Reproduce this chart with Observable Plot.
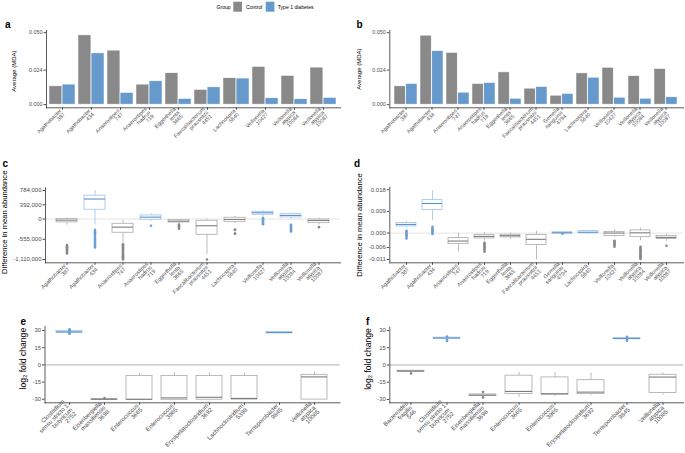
<!DOCTYPE html>
<html><head><meta charset="utf-8">
<script src="https://cdn.jsdelivr.net/npm/d3@7"></script>
<script src="https://cdn.jsdelivr.net/npm/@observablehq/plot@0.6"></script>
<style>
body{margin:0;background:#fff;}
#fig{position:relative;width:685px;height:453px;overflow:hidden;font-family:"Liberation Sans",Arial,Helvetica,sans-serif;}
.panel{position:absolute;}
.panel svg{overflow:visible;}
</style></head><body><div id="fig"></div>
<script>
// ---------- DATA ----------
const groups = ["Control", "Type 1 diabetes"];

const speciesA = ["Agathobacter\n387","Agathobacter\n434","Anaerostipes\n747","Anaerostipes\nhadrus\n719","Eggerthella\nlenta\n3665","Faecalibacterium\nprausnitzii\n4451","Lachnospira\n5640","Veillonella\n10427","Veillonella\natypica\n10084","Veillonella\natypica\n10087"];
const controlA = [0.0127, 0.0481, 0.0375, 0.0139, 0.0218, 0.0102, 0.0183, 0.0262, 0.0199, 0.0257];
const t1dA     = [0.0139, 0.0356, 0.0081, 0.0162, 0.0039, 0.0120, 0.0181, 0.0044, 0.0037, 0.0046];

const speciesB = ["Agathobacter\n387","Agathobacter\n434","Anaerostipes\n747","Anaerostipes\nhadrus\n719","Eggerthella\nlenta\n3665","Faecalibacterium\nprausnitzii\n4451","Gemella\nsanguinis\n4794","Lachnospira\n5640","Veillonella\n10427","Veillonella\natypica\n10084","Veillonella\natypica\n10087"];
const controlB = [0.0127, 0.0479, 0.0359, 0.0143, 0.0224, 0.0111, 0.0062, 0.0217, 0.0256, 0.0198, 0.0247];
const t1dB     = [0.0143, 0.0371, 0.0083, 0.0150, 0.0041, 0.0122, 0.0074, 0.0187, 0.0048, 0.0041, 0.0051];
const yTicksAB = [0, 0.024, 0.050];

// panel c: difference in mean abundance (box summaries)
const speciesC = speciesA;
const higherC = ["Control","Type 1 diabetes","Control","Type 1 diabetes","Control","Control","Control","Type 1 diabetes","Type 1 diabetes","Control"];
const lowC  = [-165000, -156000, -661000, -74000, -140000, -972000, -129000, 52000, -3000, -156000];
const q1C   = [-92000, 256000, -376000, -19000, -93000, -431000, -85000, 118000, 44000, -112000];
const medC  = [-30000, 550000, -222000, 52000, -58000, -184000, -11000, 173000, 99000, -38000];
const q3C   = [5000, 641000, -129000, 99000, -30000, -47000, 36000, 200000, 134000, -11000];
const highC = [27000, 779000, -38000, 154000, -11000, 0, 71000, 228000, 162000, 25000];
const outC  = [
  [-715000,-745000,-775000,-805000,-835000,-865000,-895000,-925000,-945000],
  [-294000,-330000,-365000,-400000,-440000,-480000,-520000,-560000,-600000,-640000,-680000,-720000,-760000,-780000],
  [-690000,-720000,-750000,-780000,-810000,-840000,-870000,-900000,-930000,-960000,-990000,-1020000,-1050000,-1080000,-1110000],
  [-184000],
  [-148000,-175000,-205000,-235000,-266000],
  [-1109000],
  [-285000,-300000,-395000,-404000],
  [25000,0,-25000,-50000,-75000,-100000,-120000,-140000],
  [-156000,-185000,-215000,-245000,-275000,-305000,-340000],
  [-222000]
];
const yTicksC = [-1110000, -555000, 0, 392000, 784000];

// panel d
const speciesD = speciesB;
const higherD = ["Type 1 diabetes","Type 1 diabetes","Control","Control","Control","Control","Type 1 diabetes","Type 1 diabetes","Control","Control","Control"];
const lowD  = [0.0022, 0.0051, -0.0078, -0.00333, -0.0026, -0.0111, -0.0002, -0.0005, -0.0018, -0.0032, -0.0035];
const q1D   = [0.00275, 0.00957, -0.0046, -0.00225, -0.0018, -0.0050, -0.0001, -0.0001, -0.00125, -0.0017, -0.0025];
const medD  = [0.00358, 0.0123, -0.00333, -0.0014, -0.0011, -0.0026, 0.0001, 0.00035, 0.0000, 0.0001, -0.0018];
const q3D   = [0.00416, 0.0137, -0.0021, -0.00083, -0.0007, -0.0008, 0.00035, 0.0008, 0.0005, 0.0011, -0.00125];
const highD = [0.0050, 0.0176, 0.0000, 0.00028, 0.0000, 0.0007, 0.0005, 0.0011, 0.0014, 0.0021, -0.0004];
const outD  = [
  [0.00096,0.0005,0.0000,-0.0005,-0.001,-0.0015,-0.00225],
  [0.0026,0.0021,0.0016,0.0011,0.0006,0.0001,-0.00042],
  [],
  [-0.0040,-0.0045,-0.0050,-0.0055,-0.0060,-0.0065,-0.0070,-0.0078],
  [],
  [],
  [-0.00025],
  [],
  [-0.0032,-0.0036,-0.0040,-0.0045,-0.0050,-0.0057],
  [-0.0057,-0.0062,-0.0067,-0.0072,-0.0077,-0.0082,-0.0087,-0.0092,-0.0097,-0.0102,-0.0108],
  [-0.0053]
];
const yTicksD = [-0.011, -0.006, 0, 0.009, 0.018];

// panel e: log2 fold change
const speciesE = ["Clostridium\nsensu stricto 1\nbutyricum\n2752","Eisenbergiella\nmassiliensis\n3698","Enterococcus\n3665","Enterococcus\n3965","Erysipelatoclostridium\n3692","Lachnoclostridium\n5398","Terrisporobacter\n9845","Veillonella\natypica\n10085"];
const higherE = ["Type 1 diabetes","Control","Control","Control","Control","Control","Type 1 diabetes","Control"];
const lowE  = [27.5, -30.6, -30.5, -30.5, -30.4, -30.3, 27.0, -30.3];
const q1E   = [28.0, -30.5, -30.5, -30.5, -30.4, -30.3, 27.6, -30.3];
const medE  = [28.8, -30.0, -30.0, -28.8, -28.3, -29.3, 28.2, -10.5];
const q3E   = [29.5, -29.7, -9.6, -9.6, -9.6, -9.6, 28.8, -8.7];
const highE = [30.2, -29.5, -7.3, -7.0, -7.3, -7.0, 29.2, -6.3];
const outE  = [[27.2, 27.8, 29.8, 30.4, 31.0], [-29.0], [], [], [], [], [], []];
const yTicksEF = [-30, -15, 0, 15, 30];

// panel f
const speciesF = ["Bacteroides\nfragilis\n546","Clostridium\nsensu stricto 1\nbutyricum\n2752","Eisenbergiella\nmassiliensis\n3698","Enterococcus\n3665","Enterococcus\n3965","Erysipelatoclostridium\n3692","Terrisporobacter\n9845","Veillonella\natypica\n10085"];
const higherF = ["Control","Type 1 diabetes","Control","Control","Control","Control","Type 1 diabetes","Control"];
const lowF  = [-5.8, 22.5, -27.0, -28.2, -27.3, -26.5, 22.2, -26.0];
const q1F   = [-5.8, 22.9, -27.0, -25.3, -25.9, -25.3, 22.6, -24.4];
const medF  = [-5.3, 23.5, -26.2, -23.0, -25.0, -23.6, 23.0, -10.5];
const q3F   = [-5.0, 23.8, -25.6, -9.3, -10.8, -13.2, 23.5, -8.5];
const highF = [-4.8, 24.2, -25.3, -6.4, -6.7, -7.0, 24.0, -7.0];
const outF  = [[-7.3], [21.0, 21.8, 24.8], [-23.5, -28.2], [], [], [], [21.0, 21.8, 24.5], []];

// ---------- STYLE ----------
const groupColor = {"Control": "#898989", "Type 1 diabetes": "#6699cc"};
const boxColor = {
  "Control": {line: "#a9a9a9", median: "#7d7d7d", dot: "#878787"},
  "Type 1 diabetes": {line: "#9dc1e6", median: "#5b93cd", dot: "#6a9fd3"}
};
const FONT = "'Liberation Sans', Arial, Helvetica, sans-serif";
const AXIS = "#333333";
const TEXT = "#4d4d4d";

const fig = document.getElementById("fig");
function place(svg, left, top) {
  const d = document.createElement("div");
  d.className = "panel";
  d.style.left = left + "px"; d.style.top = top + "px";
  d.appendChild(svg); fig.appendChild(d);
}
const signedComma = d => (d < 0 ? "-" : "") + d3.format(",")(Math.abs(d));
const signedFixed3 = d => (d < 0 ? "-" : "") + d3.format(".3f")(Math.abs(d));
const signedInt = d => (d < 0 ? "-" : "") + Math.abs(d);

function commonMarks(yTicks, yFormat, title, tdx, tdy, fs) {
  return [
    Plot.frame({anchor: "left", stroke: AXIS, strokeWidth: 0.8}),
    Plot.frame({anchor: "bottom", stroke: AXIS, strokeWidth: 0.8}),
    Plot.axisY({ticks: yTicks, tickFormat: yFormat, tickSize: 2.5, tickPadding: 1.5, label: null, fontSize: fs.yt, color: TEXT}),
    Plot.axisX({tickRotate: -45, tickSize: 2.5, tickPadding: 1.5, label: null, fontSize: fs.xt, lineHeight: 0.95, color: TEXT}),
    Plot.text([title], {text: d => d, frameAnchor: "left", rotate: -90, dx: tdx, dy: tdy, fontSize: fs.title, fill: "black", textAnchor: "middle"})
  ];
}

function barPanel({species, control, t1d, left, top, width, height, mL, mR, mT, mB, po, title, tdx, tdy, fs}) {
  const pi = 0.1;
  const fw = width - mL - mR;
  const step = fw / (species.length - pi + 2 * po);
  const bw = step * (1 - pi);
  const rows = species.flatMap((s, i) => [{s, g: "Control", v: control[i]}, {s, g: "Type 1 diabetes", v: t1d[i]}]);
  const svg = Plot.plot({
    width, height, marginLeft: mL, marginRight: mR, marginTop: mT, marginBottom: mB,
    style: {fontFamily: FONT, fontSize: "6px", background: "transparent", overflow: "visible"},
    x: {domain: species, paddingInner: pi, paddingOuter: po, axis: null},
    y: {domain: [-0.0022, 0.0515], axis: null},
    marks: [
      Plot.barY(rows, {filter: d => d.g === "Control", x: "s", y1: 0, y2: "v", fill: groupColor["Control"], insetRight: bw / 2, stroke: "white", strokeWidth: 0.5}),
      Plot.barY(rows, {filter: d => d.g === "Type 1 diabetes", x: "s", y1: 0, y2: "v", fill: groupColor["Type 1 diabetes"], insetLeft: bw / 2, stroke: "white", strokeWidth: 0.5}),
      ...commonMarks(yTicksAB, signedFixed3, "Average (MDA)", tdx, tdy, fs)
    ]
  });
  place(svg, left, top);
}

function boxPanel({species, higher, low, q1, med, q3, high, outliers, yDomain, yTicks, yFormat, zeroColor, left, top, width, height, mL, mR, mT, mB, po, title, tdx, tdy, fs}) {
  const rows = species.map((s, i) => ({s, g: higher[i], low: low[i], q1: q1[i], med: med[i], q3: q3[i], high: high[i]}));
  const outRows = species.flatMap((s, i) => outliers[i].map(v => ({s, g: higher[i], v})));
  const marks = [Plot.ruleY([0], {stroke: zeroColor, strokeWidth: 0.7})];
  for (const g of groups) {
    const c = boxColor[g];
    const f = d => d.g === g;
    marks.push(
      Plot.ruleX(rows, {filter: f, x: "s", y1: "low", y2: "q1", stroke: c.line, strokeWidth: 0.8}),
      Plot.ruleX(rows, {filter: f, x: "s", y1: "q3", y2: "high", stroke: c.line, strokeWidth: 0.8}),
      Plot.barY(rows, {filter: f, x: "s", y1: "q1", y2: "q3", fill: "white", stroke: c.line, strokeWidth: 0.8}),
      Plot.tickY(rows, {filter: f, x: "s", y: "med", stroke: c.median, strokeWidth: 1.1}),
      Plot.dot(outRows, {filter: f, x: "s", y: "v", r: 1.3, fill: c.dot, stroke: "none"})
    );
  }
  const svg = Plot.plot({
    width, height, marginLeft: mL, marginRight: mR, marginTop: mT, marginBottom: mB,
    style: {fontFamily: FONT, fontSize: "6px", background: "transparent", overflow: "visible"},
    x: {domain: species, paddingInner: 0.25, paddingOuter: po, axis: null},
    y: {domain: yDomain, axis: null},
    marks: [...marks, ...commonMarks(yTicks, yFormat, title, tdx, tdy, fs)]
  });
  place(svg, left, top);
}

const fsAB = {yt: 5.4, xt: 5.4, title: 6};
const fsCD = {yt: 6, xt: 5.5, title: 7.6};
const fsEF = {yt: 5.9, xt: 6, title: 8.6};

barPanel({species: speciesA, control: controlA, t1d: t1dA, left: 0, top: 20, width: 342, height: 130, mL: 46, mR: 2, mT: 10, mB: 42.7, po: 0.1, title: "Average (MDA)", tdx: -32, tdy: 2, fs: fsAB});
barPanel({species: speciesB, control: controlB, t1d: t1dB, left: 340, top: 20, width: 345, height: 130, mL: 49.3, mR: 2, mT: 10, mB: 42.7, po: 0.15, title: "Average (MDA)", tdx: -30.5, tdy: 0, fs: fsAB});

boxPanel({species: speciesC, higher: higherC, low: lowC, q1: q1C, med: medC, q3: q3C, high: highC, outliers: outC,
  yDomain: [-1200600, 858100], yTicks: yTicksC, yFormat: signedComma, zeroColor: "#d9d9d9",
  left: 0, top: 150, width: 342, height: 140, mL: 45, mR: 2, mT: 37.3, mB: 27.7, po: 0.225,
  title: "Difference in mean abundance", tdx: -41, tdy: -3, fs: fsCD});
boxPanel({species: speciesD, higher: higherD, low: lowD, q1: q1D, med: medD, q3: q3D, high: highD, outliers: outD,
  yDomain: [-0.01237, 0.01908], yTicks: yTicksD, yFormat: signedFixed3, zeroColor: "#d9d9d9",
  left: 340, top: 150, width: 345, height: 140, mL: 49.3, mR: 2, mT: 36.7, mB: 27.7, po: 0.15,
  title: "Difference in mean abundance", tdx: -30, tdy: 0, fs: fsCD});
boxPanel({species: speciesE, higher: higherE, low: lowE, q1: q1E, med: medE, q3: q3E, high: highE, outliers: outE,
  yDomain: [-33.1, 33.5], yTicks: yTicksEF, yFormat: signedInt, zeroColor: "#8c8c8c",
  left: 0, top: 290, width: 342, height: 163, mL: 44.5, mR: 2.5, mT: 36, mB: 50.7, po: 0.23,
  title: "log\u2082 fold change", tdx: -22, tdy: -6, fs: fsEF});
boxPanel({species: speciesF, higher: higherF, low: lowF, q1: q1F, med: medF, q3: q3F, high: highF, outliers: outF,
  yDomain: [-32.9, 32.9], yTicks: yTicksEF, yFormat: signedInt, zeroColor: "#8c8c8c",
  left: 340, top: 290, width: 345, height: 163, mL: 49.3, mR: 2, mT: 36.7, mB: 50.7, po: 0.19,
  title: "log\u2082 fold change", tdx: -21.6, tdy: -6, fs: fsEF});

// ---------- overlay: panel letters + legend ----------
const ov = d3.select(fig).append("svg")
  .attr("width", 685).attr("height", 453)
  .style("position", "absolute").style("left", 0).style("top", 0)
  .style("pointer-events", "none").style("font-family", FONT);
const letters = [["a", 5, 27.5], ["b", 356.5, 27.5], ["c", 2.5, 167.3], ["d", 354, 167.3], ["e", 20.5, 325], ["f", 366, 325]];
ov.selectAll("text.letter").data(letters).join("text").attr("class", "letter")
  .attr("x", d => d[1]).attr("y", d => d[2]).attr("font-size", 10).attr("font-weight", "bold").text(d => d[0]);
const lg = ov.append("g");
lg.append("text").attr("x", 216.5).attr("y", 8.8).attr("font-size", 5.1).attr("fill", "black").text("Group");
const legendItems = [[233.3, 246, "Control"], [265.7, 277.7, "Type 1 diabetes"]];
legendItems.forEach(([rx, tx, g]) => {
  lg.append("rect").attr("x", rx).attr("y", 1.7).attr("width", 8.7).attr("height", 10).attr("fill", groupColor[g]);
  lg.append("text").attr("x", tx).attr("y", 8.8).attr("font-size", 5.1).attr("fill", "black").text(g);
});
</script></body></html>
